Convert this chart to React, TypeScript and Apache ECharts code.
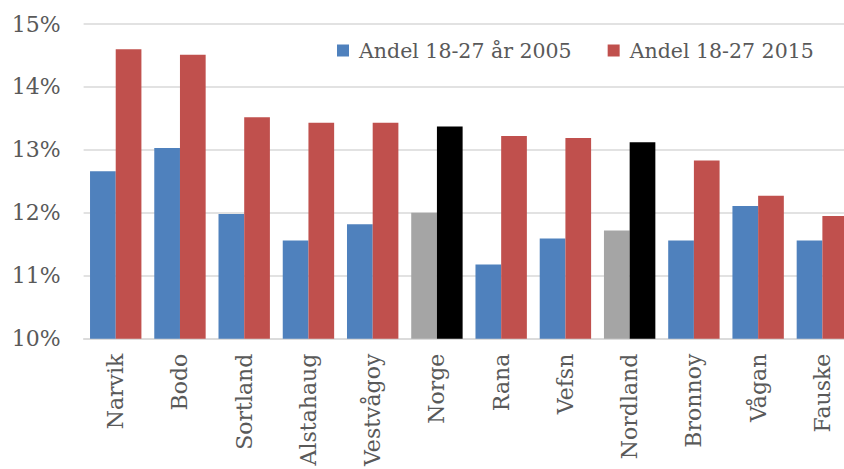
import React, { useEffect, useRef } from "react";
import * as echarts from "echarts";

const categories = ["Narvik", "Bodo", "Sortland", "Alstahaug", "Vestvågoy", "Norge", "Rana", "Vefsn", "Nordland", "Bronnoy", "Vågan", "Fauske"];
const share2005 = [12.66, 13.03, 11.98, 11.56, 11.82, 12.0, 11.18, 11.59, 11.72, 11.56, 12.11, 11.56];
const share2015 = [14.6, 14.51, 13.52, 13.43, 13.43, 13.37, 13.22, 13.19, 13.12, 12.83, 12.27, 11.95];
const highlighted = ["Norge", "Nordland"];
const seriesNames = ["Andel 18-27 år 2005", "Andel 18-27 2015"];
const yTicks = [10, 11, 12, 13, 14, 15];

const BLUE = "#4F81BD";
const RED = "#C0504D";
const GRAY = "#A5A5A5";
const BLACK = "#000000";
const TEXT = "#595959";
const FONT = "DejaVu Serif";

export default function App() {
  const ref = useRef<HTMLDivElement>(null);
  useEffect(() => {
    if (!ref.current) return;
    const chart = echarts.init(ref.current, null, { renderer: "svg" });
    const d2005 = share2005.map((v, i) => ({
      value: v,
      itemStyle: { color: highlighted.includes(categories[i]) ? GRAY : BLUE },
    }));
    const d2015 = share2015.map((v, i) => ({
      value: v,
      itemStyle: { color: highlighted.includes(categories[i]) ? BLACK : RED },
    }));
    chart.setOption({
      animation: false,
      textStyle: { fontFamily: FONT },
      grid: { left: 83.6, top: 24, bottom: 129, right: 25.5, containLabel: false },
      legend: {
        top: 35,
        left: 332,
        itemWidth: 12,
        itemHeight: 12,
        itemGap: 36,
        icon: "rect",
        data: seriesNames,
        textStyle: { fontFamily: FONT, fontSize: 20.5, color: TEXT, padding: [0, 0, 0, 5] },
      },
      xAxis: {
        type: "category",
        data: categories,
        axisLine: { lineStyle: { color: "#D9D9D9", width: 1.5 } },
        axisTick: { show: false },
        axisLabel: { rotate: 90, margin: 15, fontFamily: FONT, fontSize: 22, color: TEXT, interval: 0 },
      },
      yAxis: {
        type: "value",
        min: yTicks[0],
        max: yTicks[yTicks.length - 1],
        interval: 1,
        axisLine: { show: false },
        axisTick: { show: false },
        splitLine: { lineStyle: { color: "#D9D9D9", width: 1.5 } },
        axisLabel: { formatter: "{value}%", margin: 23, fontFamily: FONT, fontSize: 22, color: TEXT },
      },
      series: [
        { name: seriesNames[0], type: "bar", data: d2005, itemStyle: { color: BLUE }, barGap: "0%", barCategoryGap: "20%" },
        { name: seriesNames[1], type: "bar", data: d2015, itemStyle: { color: RED }, barGap: "0%", barCategoryGap: "20%" },
      ],
    });
    return () => chart.dispose();
  }, []);
  return (
    <div style={{ position: "fixed", left: 0, top: 0, width: 844, height: 469, overflow: "hidden", background: "#fff" }}>
      <div ref={ref} style={{ width: 880, height: 469 }} />
    </div>
  );
}
